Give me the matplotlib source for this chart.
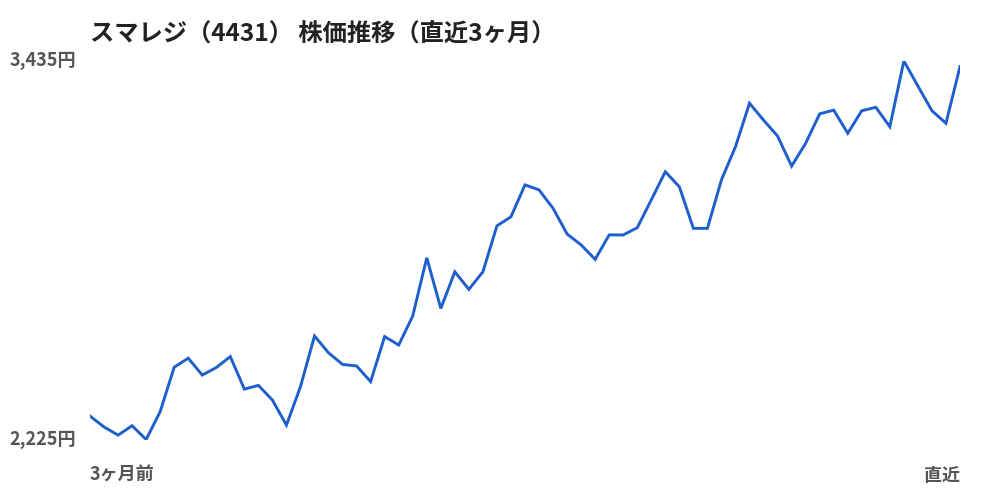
import matplotlib
matplotlib.use("Agg")
import matplotlib.pyplot as plt

plt.rcParams['font.family'] = ['Noto Sans CJK JP', 'DejaVu Sans']

# daily closing prices over the last 3 months
prices = [2300, 2265, 2239, 2269, 2225, 2314, 2456, 2485, 2431, 2455,
          2490, 2386, 2398, 2351, 2271, 2394, 2556, 2502, 2465, 2460,
          2410, 2554, 2527, 2620, 2806, 2644, 2761, 2705, 2761, 2908,
          2937, 3039, 3023, 2964, 2882, 2847, 2801, 2879, 2879, 2902,
          2991, 3081, 3033, 2900, 2900, 3055, 3161, 3300, 3246, 3195,
          3099, 3172, 3266, 3278, 3204, 3276, 3287, 3225, 3435, 3355,
          3276, 3236, 3417]
y_min, y_max = 2225, 3435
title = "スマレジ（4431） 株価推移（直近3ヶ月）"
x_labels = ["3ヶ月前", "直近"]

fig = plt.figure(figsize=(10, 5), dpi=100)
ax = fig.add_axes([0.09, 0.121, 0.87, 0.757])

ax.plot(range(len(prices)), prices, color="#1f5fcc", lw=2.1,
        solid_joinstyle="miter")
ax.set_xlim(0, len(prices) - 1)
ax.set_ylim(y_min, y_max)
ax.axis("off")

label_color = "#555555"
for v in (y_min, y_max):
    ax.text(-0.016, v, f"{v:,}円", transform=ax.get_yaxis_transform(),
            ha="right", va="center", fontsize=13, fontweight="bold",
            color=label_color)

ax.text(0, -0.095, x_labels[0], transform=ax.transAxes, ha="left",
        va="center", fontsize=13, fontweight="bold", color=label_color)
ax.text(1, -0.095, x_labels[1], transform=ax.transAxes, ha="right",
        va="center", fontsize=13, fontweight="bold", color=label_color)

fig.text(0.09, 0.93, title, ha="left", va="center", fontsize=17.5,
         fontweight="bold", color="#222222")

fig.savefig("out.png", dpi=100, facecolor="white")
